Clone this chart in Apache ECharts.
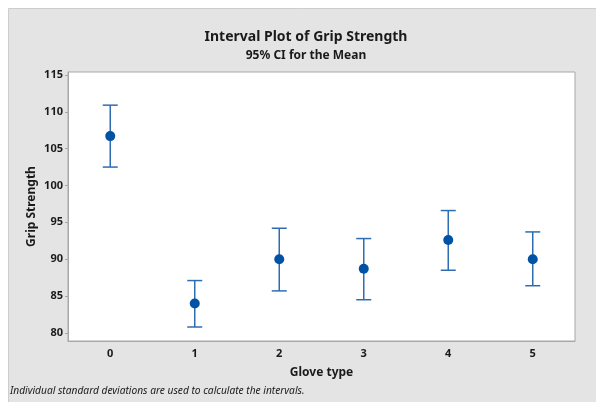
<!DOCTYPE html>
<html>
<head>
<meta charset="utf-8">
<script src="https://cdn.jsdelivr.net/npm/echarts@6/dist/echarts.min.js"></script>
<style>html,body{margin:0;padding:0;background:#fff;}#c{width:596px;height:402px;}</style>
</head>
<body>
<div id="c"></div>
<script>
const categories = ['0', '1', '2', '3', '4', '5'];
const means = [106.7, 84.0, 90.0, 88.7, 92.6, 90.0];
const lowers = [102.5, 80.8, 85.7, 84.5, 88.5, 86.4];
const uppers = [110.9, 87.1, 94.2, 92.8, 96.6, 93.7];

const FONT = 'Noto Sans';
const chart = echarts.init(document.getElementById('c'), null, {renderer: 'canvas'});

const intervalData = categories.map((c, i) => [i, lowers[i], uppers[i]]);
const meanData = categories.map((c, i) => [i, means[i]]);

chart.setOption({
  backgroundColor: '#ffffff',
  animation: false,
  textStyle: {fontFamily: FONT},
  graphic: [
    {type: 'rect', z: -10, shape: {x: 8.5, y: 8.5, width: 600, height: 400},
     style: {fill: '#e4e4e4', stroke: '#cdcdcd', lineWidth: 1}},
    {type: 'text', x: 306, y: 37, style: {text: 'Interval Plot of Grip Strength', fontFamily: FONT, fontSize: 14, fontWeight: 'bold', fill: '#1a1a1a', align: 'center', verticalAlign: 'middle'}},
    {type: 'text', x: 306, y: 56, style: {text: '95% CI for the Mean', fontFamily: FONT, fontSize: 12, fontWeight: 'bold', fill: '#1a1a1a', align: 'center', verticalAlign: 'middle'}},
    {type: 'text', x: 10, y: 391, style: {text: 'Individual standard deviations are used to calculate the intervals.', fontFamily: FONT, fontSize: 10.2, fontStyle: 'italic', fill: '#1a1a1a', align: 'left', verticalAlign: 'middle'}}
  ],
  grid: {left: 68, right: 21, top: 72, bottom: 61, show: true, backgroundColor: '#ffffff', borderColor: '#a8a8a8', borderWidth: 1},
  xAxis: {
    type: 'category', data: categories, boundaryGap: true,
    name: 'Glove type', nameLocation: 'middle', nameGap: 26,
    nameTextStyle: {fontFamily: FONT, fontSize: 12, fontWeight: 'bold', color: '#1a1a1a'},
    axisLine: {show: true, lineStyle: {color: '#a8a8a8'}},
    axisTick: {show: false},
    axisLabel: {fontFamily: FONT, fontSize: 11, fontWeight: 'bold', color: '#1a1a1a', margin: 7},
    splitLine: {show: false}
  },
  yAxis: {
    type: 'value', min: 78.9, max: 115.4, splitNumber: 7,
    name: 'Grip Strength', nameLocation: 'middle', nameGap: 30, nameMoveOverlap: false,
    nameTextStyle: {fontFamily: FONT, fontSize: 12, fontWeight: 'bold', color: '#1a1a1a'},
    axisLine: {show: true, lineStyle: {color: '#a8a8a8'}},
    axisTick: {show: true, length: 3, lineStyle: {color: '#a8a8a8'}},
    axisLabel: {fontFamily: FONT, fontSize: 11, fontWeight: 'bold', color: '#1a1a1a', margin: 5,
      showMinLabel: false, showMaxLabel: false,
      formatter: v => (Math.abs(v % 5) < 1e-6 ? String(v) : '')},
    splitLine: {show: false}
  },
  series: [
    {
      type: 'custom', name: 'CI',
      data: intervalData,
      encode: {x: 0, y: [1, 2]},
      renderItem: function (params, api) {
        const x = api.value(0);
        const lo = api.coord([x, api.value(1)]);
        const hi = api.coord([x, api.value(2)]);
        const hw = 7.5;
        const st = {stroke: '#2f6db3', lineWidth: 1.5, fill: 'none'};
        return {type: 'group', children: [
          {type: 'line', shape: {x1: lo[0], y1: lo[1], x2: hi[0], y2: hi[1]}, style: st},
          {type: 'line', shape: {x1: lo[0] - hw, y1: lo[1], x2: lo[0] + hw, y2: lo[1]}, style: st},
          {type: 'line', shape: {x1: hi[0] - hw, y1: hi[1], x2: hi[0] + hw, y2: hi[1]}, style: st}
        ]};
      },
      z: 2
    },
    {
      type: 'scatter', name: 'Mean', data: meanData,
      symbol: 'circle', symbolSize: 10,
      itemStyle: {color: '#0052a5', opacity: 1},
      z: 3
    }
  ]
});
</script>
</body>
</html>
